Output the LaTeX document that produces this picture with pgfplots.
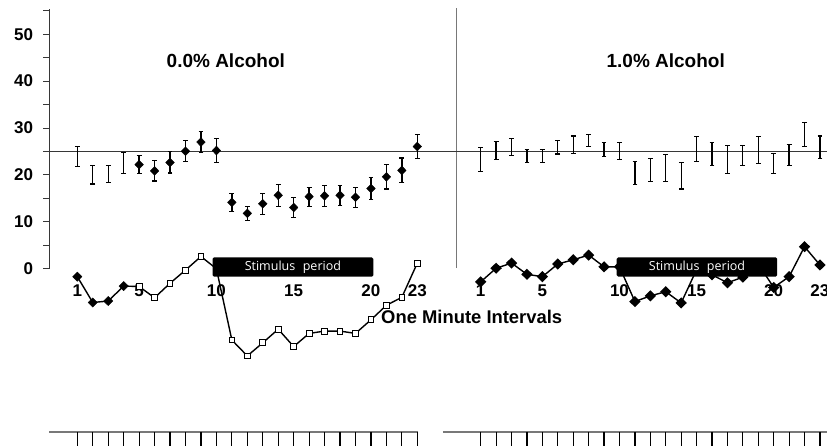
\documentclass[border=0pt]{standalone}
\usepackage{fontspec}
\setmainfont{Liberation Sans}
\newfontfamily\stimfont{Open Sans}
\usepackage{pgfplots}
\usepackage{pgfplotstable}
\pgfplotsset{compat=1.18}

\definecolor{axgray}{RGB}{55,55,55}
\definecolor{sepgray}{RGB}{120,120,120}

% heart-rate means with standard errors (upper panel)
\pgfplotstableread{
x y e
1 23.85 2.15
2 20.00 1.95
3 20.20 1.90
4 22.55 2.25
5 22.20 1.95
6 20.85 2.15
7 22.65 2.25
8 25.05 2.25
9 27.00 2.20
10 25.20 2.50
11 14.15 1.95
12 11.80 1.50
13 13.85 2.25
14 15.65 2.35
15 13.05 2.15
16 15.35 2.05
17 15.55 2.25
18 15.65 2.15
19 15.25 2.15
20 17.10 2.30
21 19.60 2.60
22 20.95 2.65
23 26.05 2.55
}\meansA

\pgfplotstableread{
x y e
1 23.30 2.60
2 25.15 1.95
3 26.00 1.80
4 24.05 1.45
5 24.00 1.45
6 25.90 1.45
7 26.40 1.90
8 27.30 1.30
9 25.40 1.50
10 25.10 1.80
11 20.40 2.40
12 21.00 2.50
13 21.50 2.90
14 19.85 2.85
15 25.45 2.65
16 24.50 2.50
17 23.25 2.95
18 24.20 2.10
19 25.35 2.85
20 22.40 2.10
21 24.25 2.15
22 28.55 2.55
23 25.90 2.40
}\meansB

% lower traces
\pgfplotstableread{
x y
1 -1.7
2 -7.2
3 -6.9
4 -3.7
5 -3.8
6 -6.2
7 -3.1
8 -0.3
9 2.6
10 0.0
11 -15.2
12 -18.6
13 -15.8
14 -12.9
15 -16.6
16 -13.8
17 -13.3
18 -13.3
19 -13.8
20 -10.9
21 -7.8
22 -6.1
23 1.2
}\traceA

\pgfplotstableread{
x y
1 -2.8
2 0.1
3 1.2
4 -1.2
5 -1.7
6 1.0
7 1.9
8 2.9
9 0.4
10 0.4
11 -7.0
12 -5.8
13 -4.9
14 -7.3
15 -0.2
16 -1.3
17 -3.0
18 -1.8
19 1.0
20 -4.0
21 -1.7
22 4.7
23 0.8
}\traceB

\tikzset{
  lbl/.style={font=\bfseries\fontsize{17}{20}\selectfont},
  ttl/.style={font=\bfseries\fontsize{19}{22}\selectfont},
  stim/.style={white, font=\stimfont\fontsize{12.5}{14}\selectfont},
}
\pgfplotsset{
  panel/.style={
    y=4.69pt, ymin=-40, ymax=55.3,
    clip=false, clip marker paths=true, xtick=\empty,
  },
  errstyle/.style={
    error bars/.cd, y dir=both, y explicit,
    error bar style={draw=black, solid, line width=1.3pt},
    error mark options={rotate=90, mark size=2.4pt, line width=1.1pt, draw=black},
  },
  meanmark/.style={mark=diamond*, mark size=4.4pt, mark options={xscale=1.3, black}},
  blob/.style={mark=diamond*, mark size=4.6pt, mark options={xscale=1.35, solid, black}},
}

\begin{document}
\begin{tikzpicture}[x=1pt,y=1pt]
\clip (0,0) rectangle (827,445);

% ---------- 0.0% alcohol ----------
\begin{axis}[
  panel,
  at={(49.3pt,-11.3pt)}, anchor=south west,
  x=15.4545pt, xmin=-0.812, xmax=25.55,
  axis x line=none, axis y line*=left,
  y axis line style={draw=none},
  ytick={0,10,...,50}, minor ytick={5,15,...,55},
  tick align=outside, major tick length=6pt, minor tick length=6pt,
  tick style={axgray, line width=1pt},
  /pgf/number format/assume math mode=true,
  yticklabel style={font=\bfseries\fontsize{17}{20}\selectfont, inner sep=0pt, xshift=-10pt},
]
\draw[axgray, line width=1.2pt] (axis cs:-0.812,0) -- (axis cs:-0.812,55.3);
\draw[sepgray, line width=1pt] (axis cs:25.55,0.15) -- (axis cs:25.55,55.5);
\addplot[axgray, line width=1.4pt] coordinates {(-0.812,25) (25.55,25)};

\node[ttl] at (axis cs:10.61,44.29) {0.0\% Alcohol};
\node[font=\bfseries\fontsize{18.4}{21}\selectfont] at (axis cs:26.52,-10.23) {One Minute Intervals};
\pgfplotsinvokeforeach{1,5,10,15,20,23}{\node[lbl] at (axis cs:#1,-4.75) {#1};}

% bottom tick strip
\draw[sepgray, line width=1.4pt] (axis cs:-0.83,-34.8) -- (axis cs:23.05,-34.8);
\pgfplotsinvokeforeach{1,...,23}{\draw[black, line width=1.2pt] (axis cs:#1,-34.8) -- (axis cs:#1,-40);}

\addplot[only marks, meanmark, mark indices={5,...,23}, errstyle]
  table[x=x, y=y, y error=e] {\meansA};

\addplot[black, line width=1.4pt, mark=square*, mark size=2.9pt,
  mark options={fill=white, solid, line width=0.9pt}, mark indices={5,...,23}]
  table[x=x, y=y] {\traceA};
\addplot[only marks, blob, mark indices={1,...,4}]
  table[x=x, y=y] {\traceA};

\fill[black, rounded corners=1.5pt] (axis cs:9.75,-1.7) rectangle (axis cs:20.16,2.4);
\node[stim] at (axis cs:14.95,0.36) {Stimulus\hspace{0.6em}period};
\end{axis}

% ---------- 1.0% alcohol ----------
\begin{axis}[
  panel,
  at={(456.7pt,-11.3pt)}, anchor=south west,
  x=15.42pt, xmin=-0.556, xmax=23.454,
  hide axis,
]
\addplot[axgray, line width=1.4pt] coordinates {(-0.556,25) (23.454,25)};

\node[ttl] at (axis cs:13.0,44.29) {1.0\% Alcohol};
\pgfplotsinvokeforeach{1,5,10,15,20,23}{\node[lbl] at (axis cs:#1,-4.75) {#1};}

\draw[sepgray, line width=1.4pt] (axis cs:-1.445,-34.8) -- (axis cs:23.454,-34.8);
\pgfplotsinvokeforeach{1,...,23}{\draw[black, line width=1.2pt] (axis cs:#1,-34.8) -- (axis cs:#1,-40);}

\addplot[draw=none, mark=none, errstyle]
  table[x=x, y=y, y error=e] {\meansB};

\addplot[black, line width=1.4pt, blob]
  table[x=x, y=y] {\traceB};

\fill[black, rounded corners=1.5pt] (axis cs:9.82,-1.7) rectangle (axis cs:20.23,2.4);
\node[stim] at (axis cs:15.03,0.36) {Stimulus\hspace{0.6em}period};
\end{axis}
\end{tikzpicture}
\end{document}
